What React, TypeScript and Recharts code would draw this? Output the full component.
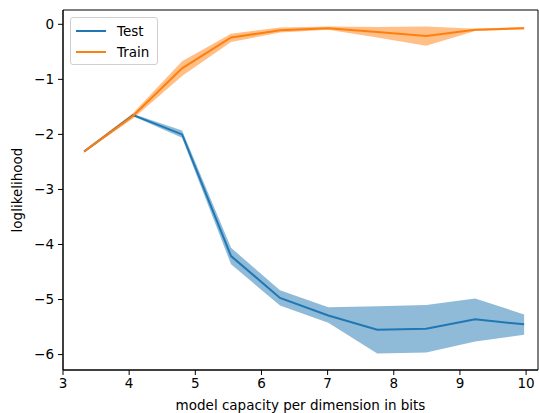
import React from 'react';
import {
    ComposedChart,
    Area,
    Line,
    XAxis,
    YAxis,
    ReferenceArea,
    Label,
} from 'recharts';

const xBits = [3.32, 4.06, 4.8, 5.54, 6.28, 7.01, 7.75, 8.49, 9.23, 9.97];
const testMean = [-2.31, -1.65, -2.0, -4.21, -4.97, -5.29, -5.55, -5.53, -5.36, -5.45];
const testLow = [-2.33, -1.67, -2.06, -4.36, -5.11, -5.42, -5.98, -5.96, -5.76, -5.64];
const testHigh = [-2.29, -1.63, -1.93, -4.06, -4.83, -5.14, -5.12, -5.1, -4.98, -5.27];
const trainMean = [-2.31, -1.66, -0.8, -0.24, -0.11, -0.07, -0.14, -0.21, -0.1, -0.07];
const trainLow = [-2.33, -1.71, -0.94, -0.32, -0.15, -0.1, -0.24, -0.39, -0.12, -0.09];
const trainHigh = [-2.29, -1.61, -0.67, -0.17, -0.06, -0.04, -0.05, -0.04, -0.08, -0.05];

const xTicks = [3, 4, 5, 6, 7, 8, 9, 10];
const yTicks = [-6, -5, -4, -3, -2, -1, 0];
const seriesNames = ['Test', 'Train'];

const BLUE = '#1f77b4';
const ORANGE = '#ff7f0e';
const FONT = '"DejaVu Sans", sans-serif';

const rows = xBits.map((x, i) => ({
    x,
    test: testMean[i],
    testBand: [testLow[i], testHigh[i]],
    train: trainMean[i],
    trainBand: [trainLow[i], trainHigh[i]],
}));

const fmt = (v: number) => String(v).replace('-', '\u2212');

// matplotlib-like legend box, laid over the plot
const LegendBox = () => (
    <div
        style={{
            position: 'absolute',
            left: 70,
            top: 17,
            border: '1px solid #d0d0d0',
            borderRadius: 3,
            background: 'rgba(255,255,255,0.8)',
            padding: '2px 8px 2px 5px',
            fontFamily: FONT,
            fontSize: 13.5,
            color: '#000',
        }}
    >
        {seriesNames.map((name, i) => (
            <div key={name} style={{ display: 'flex', alignItems: 'center', height: 21 }}>
                <span
                    style={{
                        display: 'inline-block',
                        width: 30,
                        height: 2,
                        background: i === 0 ? BLUE : ORANGE,
                        marginRight: 11,
                    }}
                />
                {name}
            </div>
        ))}
    </div>
);

export default function App() {
    return (
        <div style={{ position: 'fixed', left: 0, top: 0, width: 539, height: 413, background: '#fff' }}>
            <ComposedChart
                width={539}
                height={413}
                data={rows}
                margin={{ top: 10, right: 1, left: 0, bottom: 0 }}
            >
                <XAxis
                    dataKey="x"
                    type="number"
                    domain={[3, 10.18]}
                    ticks={xTicks}
                    allowDataOverflow
                    height={43}
                    tickSize={5}
                    tickMargin={3}
                    stroke="#000"
                    tick={{ fill: '#000', fontSize: 13.5, fontFamily: FONT }}
                    tickLine={{ stroke: '#000' }}
                >
                    <Label
                        value="model capacity per dimension in bits"
                        position="insideBottom"
                        offset={3}
                        style={{ fill: '#000', fontSize: 13.5, fontFamily: FONT }}
                    />
                </XAxis>
                <YAxis
                    type="number"
                    domain={[-6.28, 0.26]}
                    ticks={yTicks}
                    allowDataOverflow
                    width={63}
                    tickSize={5}
                    tickMargin={4}
                    tickFormatter={fmt}
                    stroke="#000"
                    tick={{ fill: '#000', fontSize: 13.5, fontFamily: FONT }}
                    tickLine={{ stroke: '#000' }}
                >
                    <Label
                        value="loglikelihood"
                        angle={-90}
                        position="insideLeft"
                        offset={17}
                        style={{ fill: '#000', fontSize: 13.5, fontFamily: FONT, textAnchor: 'middle' }}
                    />
                </YAxis>
                <Area
                    dataKey="testBand"
                    type="linear"
                    fill={BLUE}
                    fillOpacity={0.5}
                    stroke="none"
                    isAnimationActive={false}
                />
                <Line
                    dataKey="test"
                    name="Test"
                    type="linear"
                    stroke={BLUE}
                    strokeWidth={2}
                    dot={false}
                    isAnimationActive={false}
                />
                <Area
                    dataKey="trainBand"
                    type="linear"
                    fill={ORANGE}
                    fillOpacity={0.5}
                    stroke="none"
                    isAnimationActive={false}
                />
                <Line
                    dataKey="train"
                    name="Train"
                    type="linear"
                    stroke={ORANGE}
                    strokeWidth={2}
                    dot={false}
                    isAnimationActive={false}
                />
                <ReferenceArea
                    x1={3}
                    x2={10.18}
                    y1={-6.28}
                    y2={0.26}
                    fill="none"
                    stroke="#000"
                    strokeWidth={1}
                    ifOverflow="visible"
                />
            </ComposedChart>
            <LegendBox />
        </div>
    );
}
